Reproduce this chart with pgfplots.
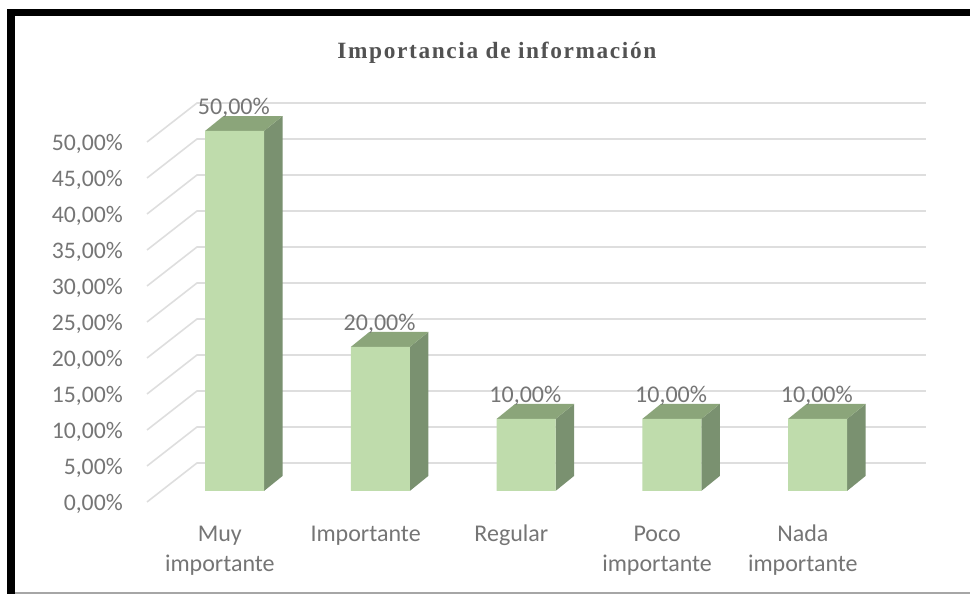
\documentclass[border=0pt]{standalone}
\usepackage{fontspec}
\usepackage{pgfplots}
\pgfplotsset{compat=1.18}
\setmainfont{Carlito}
\newfontfamily\titlefont[LetterSpace=7]{Liberation Serif}
\definecolor{txt}{HTML}{757575}
\definecolor{gridc}{HTML}{DEDEDE}
\definecolor{front}{HTML}{BFDCAC}
\definecolor{topf}{HTML}{8BA57A}
\definecolor{sidef}{HTML}{7A9170}
\pgfplotsset{
  gl/.style={gridc,line width=1.2pt,forget plot},
  sd/.style={fill=sidef,draw=none,forget plot},
  tp/.style={fill=topf,draw=none,forget plot}
}
\newcommand{\st}{\rule{0pt}{13pt}}
\begin{document}
\begin{tikzpicture}
\begin{axis}[
  scale only axis,
  width=584.25pt, height=291pt,
  xmin=-0.6003, xmax=4.744, ymin=0, ymax=53.89,
  clip=false,
  axis line style={draw=none},
  tick style={draw=none},
  major tick length=0pt,
  xtick={0,1,2,3,4},
  xticklabels={{\st Muy\\importante},{\st Importante},{\st Regular},{\st Poco\\importante},{\st Nada\\importante}},
  ytick={0,5,10,15,20,25,30,35,40,45,50},
  yticklabel={\pgfmathprintnumber[fixed,fixed zerofill,precision=2,use comma,assume math mode=true]{\tick}\%},
  yticklabel style={anchor=east,inner xsep=0pt,inner ysep=0pt,xshift=-18pt,yshift=-9.75pt,text=txt,font=\fontsize{17.8}{21}\selectfont},
  xticklabel style={align=center,anchor=north,xshift=-11pt,yshift=-21pt,text=txt,font=\fontsize{18}{22.5}\selectfont},
]
% gridlines: front edge, back edge, right end
\addplot[gl] coordinates {(-0.6003,-1.53)(-0.2573,3.89)(4.744,3.89)};
\addplot[gl] coordinates {(-0.6003,3.47)(-0.2573,8.89)(4.744,8.89)};
\addplot[gl] coordinates {(-0.6003,8.47)(-0.2573,13.89)(4.744,13.89)};
\addplot[gl] coordinates {(-0.6003,13.47)(-0.2573,18.89)(4.744,18.89)};
\addplot[gl] coordinates {(-0.6003,18.47)(-0.2573,23.89)(4.744,23.89)};
\addplot[gl] coordinates {(-0.6003,23.47)(-0.2573,28.89)(4.744,28.89)};
\addplot[gl] coordinates {(-0.6003,28.47)(-0.2573,33.89)(4.744,33.89)};
\addplot[gl] coordinates {(-0.6003,33.47)(-0.2573,38.89)(4.744,38.89)};
\addplot[gl] coordinates {(-0.6003,38.47)(-0.2573,43.89)(4.744,43.89)};
\addplot[gl] coordinates {(-0.6003,43.47)(-0.2573,48.89)(4.744,48.89)};
\addplot[gl] coordinates {(-0.6003,48.47)(-0.2573,53.89)(4.744,53.89)};
% side faces
\addplot[sd] coordinates {(0.2024,0)(0.3294,2.08)(0.3294,52.08)(0.2024,50)(0.2024,0)};
\addplot[sd] coordinates {(1.2024,0)(1.3294,2.08)(1.3294,22.08)(1.2024,20)(1.2024,0)};
\addplot[sd] coordinates {(2.2024,0)(2.3294,2.08)(2.3294,12.08)(2.2024,10)(2.2024,0)};
\addplot[sd] coordinates {(3.2024,0)(3.3294,2.08)(3.3294,12.08)(3.2024,10)(3.2024,0)};
\addplot[sd] coordinates {(4.2024,0)(4.3294,2.08)(4.3294,12.08)(4.2024,10)(4.2024,0)};
% top faces
\addplot[tp] coordinates {(-0.2024,50)(-0.0754,52.08)(0.3294,52.08)(0.2024,50)(-0.2024,50)};
\addplot[tp] coordinates {(0.7976,20)(0.9246,22.08)(1.3294,22.08)(1.2024,20)(0.7976,20)};
\addplot[tp] coordinates {(1.7976,10)(1.9246,12.08)(2.3294,12.08)(2.2024,10)(1.7976,10)};
\addplot[tp] coordinates {(2.7976,10)(2.9246,12.08)(3.3294,12.08)(3.2024,10)(2.7976,10)};
\addplot[tp] coordinates {(3.7976,10)(3.9246,12.08)(4.3294,12.08)(4.2024,10)(3.7976,10)};
% front faces with labels
\addplot[ybar,bar width=44.25pt,bar shift=0pt,fill=front,draw=none,
  nodes near coords={\pgfmathprintnumber[fixed,fixed zerofill,precision=2,use comma,assume math mode=true]{\pgfplotspointmeta}\%},
  every node near coord/.append style={anchor=center,yshift=17.5pt,xshift=-0.5pt,text=txt,inner sep=0pt,font=\fontsize{18}{21}\selectfont}]
  coordinates {(0,50)(1,20)(2,10)(3,10)(4,10)};
% title, frame
\node[anchor=center,text=black!68,font=\titlefont\fontsize{17.5}{20}\bfseries] at (axis cs:1.8,60.9) {Importancia de información};
\fill[black] (axis cs:-1.5609,66.944) rectangle (axis cs:5.046,65.972);
\fill[black] (axis cs:-1.5609,66.944) rectangle (axis cs:-1.5060,-14.306);
\fill[black!35] (axis cs:-1.5060,-14.03) rectangle (axis cs:5.046,-14.306);
\path (axis cs:-1.609,-14.306) rectangle (axis cs:5.046,68.194);
\end{axis}
\end{tikzpicture}
\end{document}
